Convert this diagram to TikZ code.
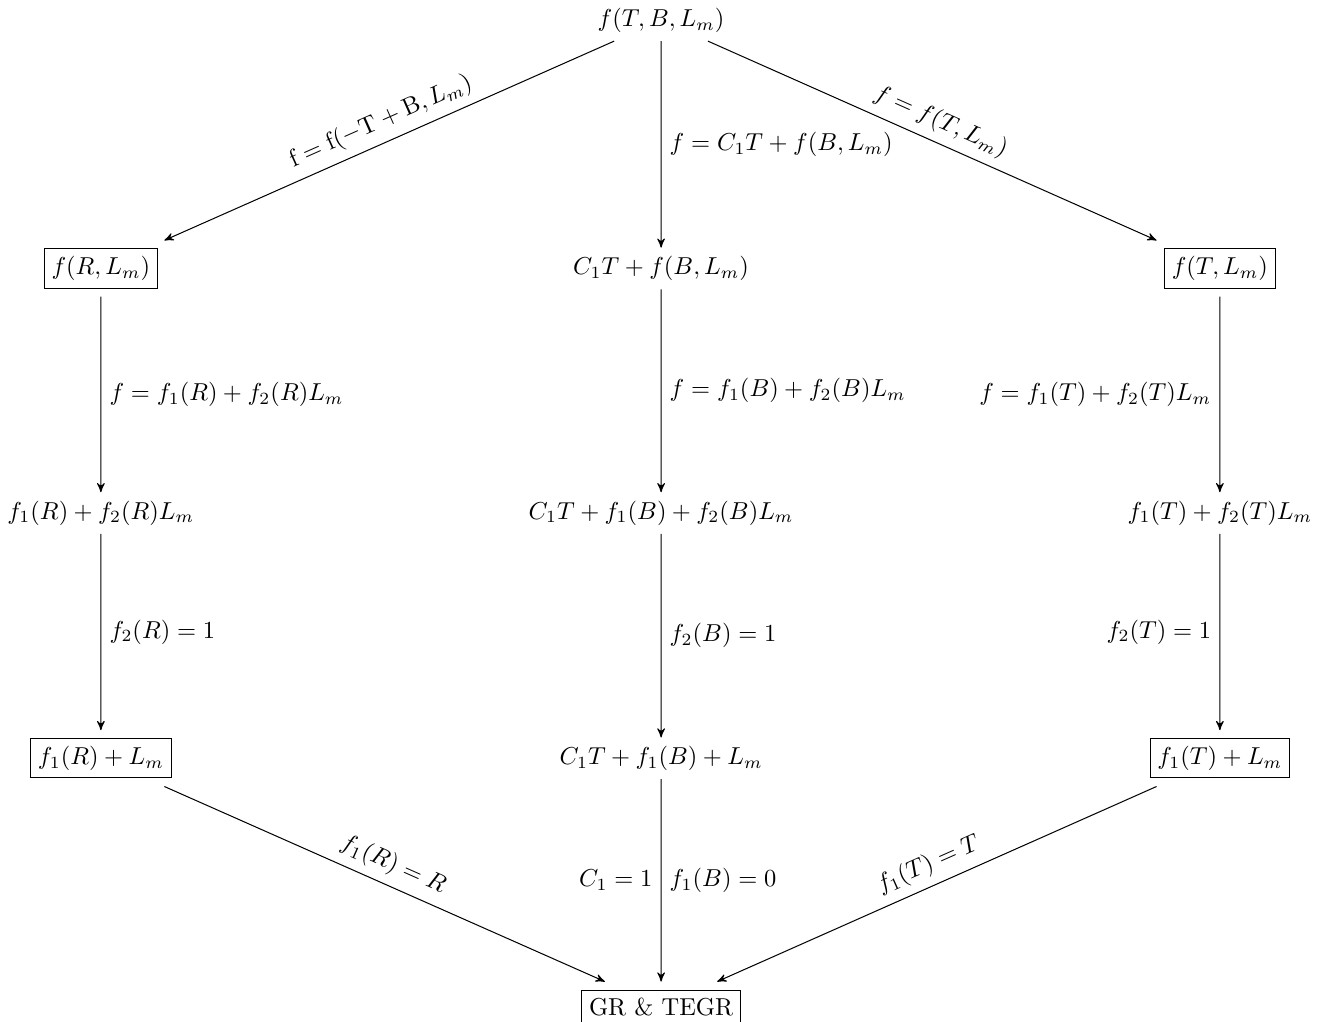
\documentclass[tikz,border=0pt]{standalone}
\usepackage{amsmath}
\usetikzlibrary{arrows}

\begin{document}
\begin{tikzpicture}[
    every node/.style={scale=0.96},
    cell/.style={inner sep=3.3pt},
    boxed/.style={draw,inner sep=3pt,outer sep=3.5pt}
]
\useasboundingbox (0,0) rectangle (18.19,-14.08);

\node[cell](TBL) at (9.11,-0.28) {$f(T,B,L_m)$};

% side columns
\foreach \v/\x/\n/\s in {R/1.39/L/right, T/16.81/R/left} {
    \node[boxed](\n1) at (\x,-3.70) {$f(\v,L_m)$};
    \node[cell](\n2) at (\x,-7.07) {$f_1(\v)+f_2(\v)L_m$};
    \node[boxed](\n3) at (\x,-10.45) {$f_1(\v)+L_m$};
    \path [->,>=stealth']
        (\n1) edge node[\s] {$f=f_1(\v)+f_2(\v)L_m$} (\n2)
        (\n2) edge node[\s] {$f_2(\v)=1$} (\n3);
}

% middle column
\node[cell](M1) at (9.11,-3.70) {$C_1T+f(B,L_m)$};
\node[cell](M2) at (9.11,-7.07) {$C_1T+f_1(B)+f_2(B)L_m$};
\node[cell](M3) at (9.11,-10.45) {$C_1T+f_1(B)+L_m$};
\node[boxed](GR) at (9.11,-13.87) {GR \& TEGR};

\path [->,>=stealth']
    (TBL) edge node[sloped,above] {$\mathrm{f}=\mathrm{f}(-\mathrm{T}+\mathrm{B},L_m)$} (L1)
    (TBL) edge node[right] {$f=C_1T+f(B,L_m)$} (M1)
    (TBL) edge node[sloped,above] {$f=f(T,L_m)$} (R1)
    (M1) edge node[right] {$f=f_1(B)+f_2(B)L_m$} (M2)
    (M2) edge node[right] {$f_2(B)=1$} (M3)
    (M3) edge node[left] {$C_1=1$} node[right] {$f_1(B)=0$} (GR)
    (L3) edge node[sloped,above] {$f_1(R)=R$} (GR)
    (R3) edge node[sloped,above] {$f_1(T)=T$} (GR);
\end{tikzpicture}
\end{document}
